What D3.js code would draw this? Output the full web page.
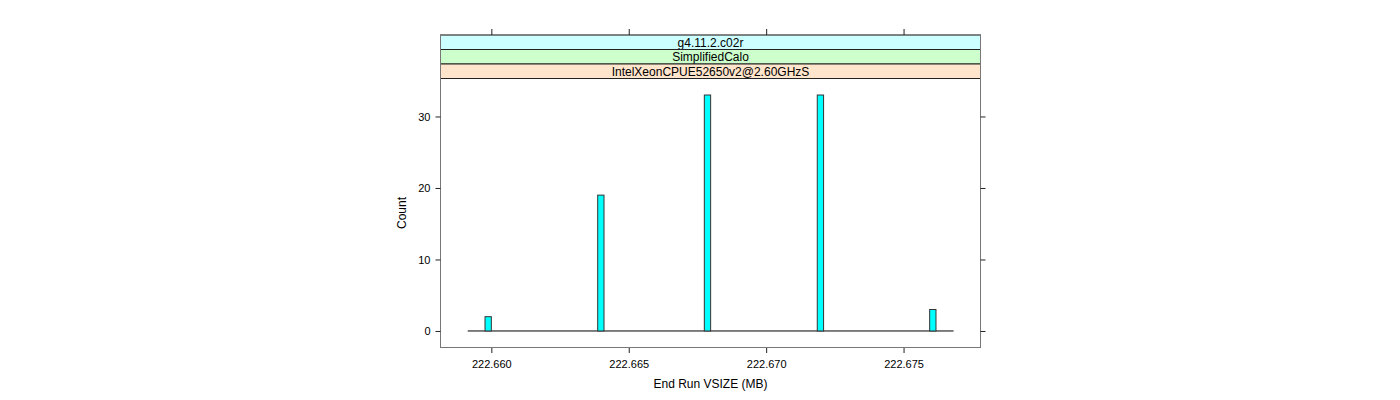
<!DOCTYPE html>
<html>
<head>
<meta charset="utf-8">
<script src="https://cdn.jsdelivr.net/npm/d3@7"></script>
<style>
  body { margin: 0; background: #fff; }
  text { font-family: "Liberation Sans", Arial, sans-serif; }
</style>
</head>
<body>
<div id="chart"></div>
<script>
// histogram bins with non-zero counts (left edge, MB) and their counts
var binLefts = [222.65977, 222.66387, 222.66775, 222.67186, 222.67595];
var binCounts = [2, 19, 33, 33, 3];
var binWidth = 0.00023;
// full range of the histogram (zero-height bins form the baseline)
var histRange = [222.65914, 222.67682];

var xTicks = [222.660, 222.665, 222.670, 222.675];
var yTicks = [0, 10, 20, 30];
var strips = ["g4.11.2.c02r", "SimplifiedCalo", "IntelXeonCPUE52650v2@2.60GHzS"];
var stripColors = ["#ccffff", "#ccffcc", "#ffe5cc"];

var width = 1400, height = 400;
var panel = {left: 440.5, right: 980.5, top: 78.5, bottom: 347.5};
var stripH = 14.5;

var svg = d3.select("#chart")
    .append("svg")
        .attr("width", width)
        .attr("height", height);

var scaleX = d3.scaleLinear()
    .domain([222.65815, 222.67780])
    .range([panel.left, panel.right]);

var scaleY = d3.scaleLinear()
    .domain([-2.31, 35.31])
    .range([panel.bottom, panel.top]);

// strips, stacked above the panel (first level at the bottom)
strips.forEach(function(s, i) {
    var y = panel.top - (strips.length - i) * stripH;
    svg.append("rect")
        .attr("x", panel.left)
        .attr("y", y)
        .attr("width", panel.right - panel.left)
        .attr("height", stripH)
        .attr("fill", stripColors[i])
        .attr("stroke", "#222")
        .attr("stroke-width", 1);
    svg.append("text")
        .attr("x", (panel.left + panel.right) / 2)
        .attr("y", y + stripH / 2)
        .attr("dy", "0.36em")
        .attr("text-anchor", "middle")
        .style("font-size", "12px")
        .text(s);
});
var stripTop = panel.top - strips.length * stripH;

// outer frame
svg.append("rect")
    .attr("x", panel.left)
    .attr("y", stripTop)
    .attr("width", panel.right - panel.left)
    .attr("height", panel.bottom - stripTop)
    .attr("fill", "none")
    .attr("stroke", "#777")
    .attr("stroke-width", 1);

// axes
var bottomAxis = svg.append("g")
    .attr("transform", "translate(0," + (panel.bottom + 0.5) + ")")
    .call(d3.axisBottom(scaleX).tickValues(xTicks).tickFormat(d3.format(".3f")).tickSize(5).tickPadding(7));

var topAxis = svg.append("g")
    .attr("transform", "translate(0," + stripTop + ")")
    .call(d3.axisTop(scaleX).tickValues(xTicks).tickFormat("").tickSize(6));

var leftAxis = svg.append("g")
    .attr("transform", "translate(" + panel.left + ",0)")
    .call(d3.axisLeft(scaleY).tickValues(yTicks).tickSize(5).tickPadding(5));

var rightAxis = svg.append("g")
    .attr("transform", "translate(" + panel.right + ",0)")
    .call(d3.axisRight(scaleY).tickValues(yTicks).tickFormat("").tickSize(5));

[bottomAxis, topAxis, leftAxis, rightAxis].forEach(function(a) {
    a.select(".domain").remove();
    a.selectAll("line").attr("stroke", "#222");
    a.selectAll("text")
        .attr("fill", "#000")
        .style("font-family", "'Liberation Sans', Arial, sans-serif")
        .style("font-size", "11px");
});

// baseline of empty bins
svg.append("line")
    .attr("x1", scaleX(histRange[0]))
    .attr("x2", scaleX(histRange[1]))
    .attr("y1", scaleY(0))
    .attr("y2", scaleY(0))
    .attr("stroke", "#000")
    .attr("stroke-width", 1);

// bars
svg.selectAll(".bar")
    .data(binLefts)
    .enter()
    .append("rect")
        .attr("class", "bar")
        .attr("x", function(d) { return scaleX(d); })
        .attr("width", function(d) { return scaleX(d + binWidth) - scaleX(d); })
        .attr("y", function(d, i) { return scaleY(binCounts[i]); })
        .attr("height", function(d, i) { return scaleY(0) - scaleY(binCounts[i]); })
        .attr("fill", "#00ffff")
        .attr("stroke", "#333")
        .attr("stroke-width", 1);

// axis titles
svg.append("text")
    .attr("x", (panel.left + panel.right) / 2)
    .attr("y", 388)
    .attr("text-anchor", "middle")
    .style("font-size", "12px")
    .text("End Run VSIZE (MB)");

svg.append("text")
    .attr("transform", "translate(406," + ((panel.top + panel.bottom) / 2) + ") rotate(-90)")
    .attr("text-anchor", "middle")
    .style("font-size", "12px")
    .text("Count");
</script>
</body>
</html>
